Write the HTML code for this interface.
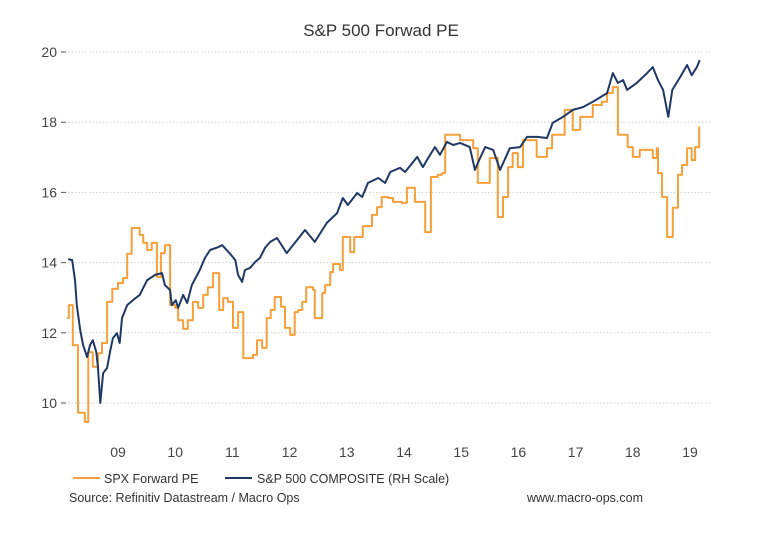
<!DOCTYPE html>
<html><head><meta charset="utf-8"><style>
html,body{margin:0;padding:0;background:#fff;}
svg{display:block;font-family:"Liberation Sans",Arial,sans-serif;}
</style></head><body>
<svg id="chart" width="762" height="535" viewBox="0 0 762 535" xmlns="http://www.w3.org/2000/svg">
<text x="381" y="36" text-anchor="middle" font-size="17" fill="#333">S&amp;P 500 Forwad PE</text>
<g id="grid"></g>
<g id="yaxis"></g>
<g id="xaxis"></g>
<g id="series"></g>
<g>
<g>
<line x1="73" y1="478" x2="100" y2="478" stroke="#F5A03A" stroke-width="2"/>
<text x="104" y="483" font-size="12.5" fill="#333">SPX Forward PE</text></g>
<g>
<line x1="225" y1="478" x2="252" y2="478" stroke="#1F3864" stroke-width="2"/>
<text x="257" y="483" font-size="12.5" fill="#333">S&amp;P 500 COMPOSITE (RH Scale)</text></g>
</g>
<text x="69" y="502" font-size="12.5" fill="#333">Source: Refinitiv Datastream / Macro Ops</text>
<text x="527" y="502" font-size="12.5" fill="#333">www.macro-ops.com</text>
</svg>
<script>
const yTicks=[10,12,14,16,18,20];
const xTickLabels=["09","10","11","12","13","14","15","16","17","18","19"];
const xTickYears=[2009.5,2010.5,2011.5,2012.5,2013.5,2014.5,2015.5,2016.5,2017.5,2018.5,2019.5];
const peDates=[2008.61,2008.64,2008.71,2008.80,2008.92,2008.98,2009.06,2009.15,2009.22,2009.31,2009.40,2009.50,2009.59,2009.66,2009.74,2009.88,2009.94,2010.01,2010.09,2010.18,2010.25,2010.32,2010.41,2010.50,2010.55,2010.64,2010.72,2010.81,2010.90,2010.99,2011.07,2011.16,2011.27,2011.34,2011.42,2011.51,2011.60,2011.69,2011.86,2011.93,2012.02,2012.10,2012.17,2012.24,2012.35,2012.42,2012.51,2012.59,2012.65,2012.72,2012.79,2012.91,2012.94,2013.07,2013.12,2013.21,2013.26,2013.38,2013.43,2013.56,2013.63,2013.78,2013.94,2014.03,2014.11,2014.22,2014.31,2014.46,2014.55,2014.69,2014.87,2014.97,2015.09,2015.16,2015.22,2015.48,2015.71,2015.79,2016.00,2016.14,2016.23,2016.32,2016.40,2016.49,2016.58,2016.82,2017.00,2017.09,2017.31,2017.45,2017.58,2017.80,2017.96,2018.05,2018.15,2018.24,2018.41,2018.50,2018.62,2018.85,2018.92,2018.94,2019.01,2019.10,2019.20,2019.29,2019.36,2019.45,2019.53,2019.59,2019.66];
const peValues=[12.42,12.79,11.65,9.72,9.46,11.45,11.03,11.42,11.71,12.88,13.25,13.42,13.56,14.25,14.99,14.79,14.56,14.36,14.56,13.59,14.27,14.50,12.79,12.71,12.36,12.11,12.36,12.88,12.71,13.08,13.30,13.70,12.65,12.99,12.88,12.14,12.59,11.28,11.37,11.79,11.57,12.42,12.65,13.02,12.74,12.14,11.94,12.59,12.65,12.88,13.30,13.22,12.42,13.13,13.36,13.73,13.96,13.79,14.73,14.30,14.73,15.04,15.36,15.58,15.87,15.84,15.73,15.70,16.13,15.73,14.87,16.44,16.50,16.55,17.64,17.49,17.26,16.27,16.98,15.30,15.87,16.72,17.12,16.72,17.49,17.01,17.26,17.64,18.35,17.78,18.15,18.49,18.58,18.83,19.00,17.64,17.29,17.01,17.21,16.98,17.26,16.55,15.87,14.73,15.56,16.50,16.78,17.26,16.92,17.29,17.86];
const peEnd=2019.67;
const spxDates=[2008.63,2008.70,2008.75,2008.78,2008.84,2008.89,2008.96,2009.01,2009.06,2009.12,2009.15,2009.19,2009.24,2009.31,2009.36,2009.41,2009.48,2009.53,2009.57,2009.66,2009.76,2009.88,2010.01,2010.15,2010.27,2010.32,2010.41,2010.44,2010.51,2010.55,2010.64,2010.71,2010.79,2010.93,2011.02,2011.11,2011.25,2011.32,2011.46,2011.55,2011.60,2011.67,2011.72,2011.81,2011.90,2011.98,2012.07,2012.16,2012.28,2012.45,2012.63,2012.77,2012.94,2013.15,2013.33,2013.43,2013.52,2013.68,2013.77,2013.87,2014.05,2014.17,2014.26,2014.43,2014.52,2014.73,2014.83,2014.90,2015.04,2015.13,2015.25,2015.36,2015.48,2015.65,2015.74,2015.83,2015.92,2016.06,2016.18,2016.35,2016.53,2016.65,2016.83,2017.00,2017.10,2017.28,2017.45,2017.63,2017.80,2018.05,2018.15,2018.24,2018.33,2018.40,2018.57,2018.75,2018.85,2018.94,2019.03,2019.12,2019.19,2019.33,2019.45,2019.53,2019.62,2019.67];
const spxValues=[14.10,14.07,13.48,12.79,12.08,11.65,11.31,11.65,11.79,11.45,11.00,10.00,10.85,11.00,11.45,11.85,11.99,11.71,12.42,12.79,12.93,13.08,13.50,13.65,13.70,13.36,13.22,12.79,12.93,12.71,13.08,12.85,13.36,13.79,14.13,14.36,14.44,14.50,14.25,14.07,13.65,13.45,13.79,13.85,14.02,14.13,14.42,14.59,14.70,14.27,14.64,14.93,14.59,15.13,15.41,15.84,15.64,15.98,15.87,16.27,16.41,16.27,16.58,16.70,16.58,17.01,16.72,16.92,17.29,17.07,17.44,17.35,17.41,17.29,16.64,16.98,17.29,17.21,16.64,17.26,17.29,17.58,17.58,17.55,17.98,18.15,18.35,18.43,18.58,18.83,19.40,19.12,19.20,18.92,19.12,19.40,19.57,19.20,18.92,18.15,18.92,19.29,19.63,19.34,19.57,19.77];

const NS="http://www.w3.org/2000/svg";
const X0=68,X1=712;
function xs(t){return 118+(t-2009.5)*57.2;}
function ys(v){return 52+(20-v)*35.1;}
function mk(tag,attrs,parent){const e=document.createElementNS(NS,tag);for(const k in attrs)e.setAttribute(k,attrs[k]);parent.appendChild(e);return e;}
const grid=document.getElementById('grid'),ya=document.getElementById('yaxis'),xa=document.getElementById('xaxis'),ser=document.getElementById('series');
yTicks.forEach(v=>{
  const g=mk('line',{x1:X0,x2:X1,y1:ys(v),y2:ys(v),stroke:'#cfcfcf','stroke-width':1,'stroke-dasharray':'1.5,2'},grid);
  
  
  const tk=mk('line',{x1:61,x2:66,y1:ys(v),y2:ys(v),stroke:'#555','stroke-width':1},ya);
  
  
  const t=mk('text',{x:57,y:ys(v)+5,'text-anchor':'end','font-size':14,fill:'#444'},ya);
  t.textContent=v;
  
  
});
xTickLabels.forEach((l,i)=>{
  const t=mk('text',{x:xs(xTickYears[i]),y:457,'text-anchor':'middle','font-size':14,fill:'#444'},xa);
  t.textContent=l;
  
  
});
let d='';
peDates.forEach((t,i)=>{
  const x=xs(t),y=ys(peValues[i]);
  d+=(i===0?'M':'L')+x.toFixed(1)+','+y.toFixed(1);
  const nx=i<peDates.length-1?xs(peDates[i+1]):xs(peEnd);
  d+='L'+nx.toFixed(1)+','+y.toFixed(1);
});
const pe=mk('path',{d:d,fill:'none',stroke:'#F5A03A','stroke-width':2,'stroke-linejoin':'round'},ser);


let d2='';
spxDates.forEach((t,i)=>{d2+=(i===0?'M':'L')+xs(t).toFixed(1)+','+ys(spxValues[i]).toFixed(1);});
const sp=mk('path',{d:d2,fill:'none',stroke:'#1F3864','stroke-width':2,'stroke-linejoin':'round'},ser);


</script>
</body></html>
